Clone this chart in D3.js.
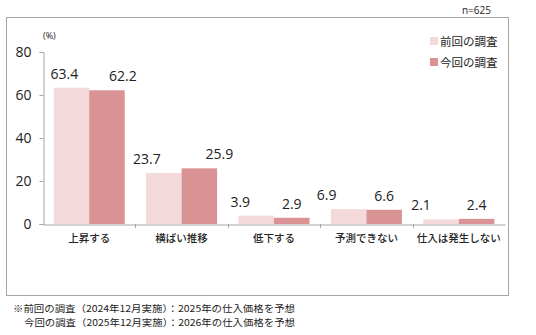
<!DOCTYPE html>
<html>
<head>
<meta charset="utf-8">
<script src="https://cdn.jsdelivr.net/npm/d3@7"></script>
<style>
  html, body { margin: 0; padding: 0; background: #fff; }
  svg { display: block; }
  text { font-family: "Noto Sans CJK JP", "Noto Sans", sans-serif; }
  .num { font-family: "Open Sans", "Noto Sans", sans-serif; }
</style>
</head>
<body>
<svg id="chart" width="536" height="335"></svg>
<script>
// Survey answers (%) — purchase price outlook
const categories = ["上昇する", "横ばい推移", "低下する", "予測できない", "仕入は発生しない"];
const seriesNames = ["前回の調査", "今回の調査"];
const previousSurvey = [63.4, 23.7, 3.9, 6.9, 2.1];
const currentSurvey = [62.2, 25.9, 2.9, 6.6, 2.4];
const yTicks = [0, 20, 40, 60, 80];
const footnotes = [
  "※前回の調査（2024年12月実施）：2025年の仕入価格を予想",
  "今回の調査（2025年12月実施）：2026年の仕入価格を予想"
];

// label nudges (px) for the value captions, per series and category
const labelDx = [[-7, -17, -16, -22, -20], [16, 20, 0, 0, 0]];

const colors = ["#f3d9da", "#d99394"];
const svg = d3.select("#chart");

// outer frame
svg.append("rect")
  .attr("x", 6.5).attr("y", 17.5).attr("width", 502).attr("height", 278)
  .attr("fill", "none").attr("stroke", "#a6a6a6").attr("stroke-width", 1);

svg.append("text").attr("class", "num")
  .attr("x", 491).attr("y", 14).attr("text-anchor", "end")
  .attr("font-size", 10).attr("fill", "#222").text("n=625");

const plotLeft = 43, plotRight = 505, plotTop = 52, plotBottom = 224;

const x0 = d3.scaleBand().domain(categories).range([plotLeft, plotRight]).padding(0);
const x1 = d3.scaleBand().domain(seriesNames).range([0, x0.bandwidth()])
  .paddingInner(0).paddingOuter(0.3);
const y = d3.scaleLinear().domain([0, 80]).range([plotBottom, plotTop]);

// y axis
const yAxis = d3.axisLeft(y).tickValues(yTicks).tickSize(4).tickPadding(8);
const gy = svg.append("g").attr("transform", `translate(${plotLeft + 0.5},0)`).call(yAxis);
gy.select(".domain").attr("stroke", "#a6a6a6");
gy.selectAll(".tick line").attr("stroke", "#a6a6a6");
gy.selectAll(".tick text").attr("class", "num").attr("font-size", 14).attr("fill", "#222");

svg.append("text").attr("class", "num")
  .attr("x", 43).attr("y", 39).attr("font-size", 9).attr("fill", "#222").text("(%)");

// bars
const data = [previousSurvey, currentSurvey];
data.forEach((vals, si) => {
  svg.append("g").selectAll("rect")
    .data(vals)
    .join("rect")
    .attr("x", (d, i) => x0(categories[i]) + x1(seriesNames[si]))
    .attr("y", d => y(d))
    .attr("width", x1.bandwidth())
    .attr("height", d => y(0) - y(d))
    .attr("fill", colors[si]);

  svg.append("g").selectAll("text")
    .data(vals)
    .join("text")
    .attr("class", "num")
    .attr("x", (d, i) => x0(categories[i]) + x1(seriesNames[si]) + x1.bandwidth() / 2 + labelDx[si][i])
    .attr("y", d => y(d) - 9)
    .attr("text-anchor", "middle")
    .attr("font-size", 14)
    .attr("fill", "#222")
    .text(d => d.toFixed(1));
});

// x axis
const xAxis = d3.axisBottom(x0).tickSize(0).tickPadding(10);
const gx = svg.append("g").attr("transform", `translate(0,${plotBottom + 0.5})`).call(xAxis);
gx.select(".domain").attr("stroke", "#a6a6a6");
gx.selectAll(".tick text").attr("font-size", 10.5).attr("font-weight", 500).attr("fill", "#222");
// category separators
svg.append("g").selectAll("line")
  .data(categories.slice(1))
  .join("line")
  .attr("x1", d => Math.round(x0(d)) + 0.5).attr("x2", d => Math.round(x0(d)) + 0.5)
  .attr("y1", plotBottom).attr("y2", plotBottom + 4)
  .attr("stroke", "#a6a6a6");

// legend
const legend = svg.append("g");
seriesNames.forEach((name, i) => {
  const ly = 42 + i * 21;
  legend.append("rect").attr("x", 430).attr("y", ly - 5).attr("width", 8).attr("height", 8)
    .attr("fill", colors[i]);
  legend.append("text").attr("x", 440).attr("y", ly + 4).attr("font-size", 11.5)
    .attr("fill", "#222").text(name);
});

// footnotes
const noteX = [13, 24];
footnotes.forEach((t, i) => {
  svg.append("text").attr("font-size", 9.5).attr("fill", "#222")
    .attr("x", noteX[i]).attr("y", 312 + i * 14)
    .attr("textLength", 295 - noteX[i]).attr("lengthAdjust", "spacingAndGlyphs")
    .text(t);
});
</script>
</body>
</html>
